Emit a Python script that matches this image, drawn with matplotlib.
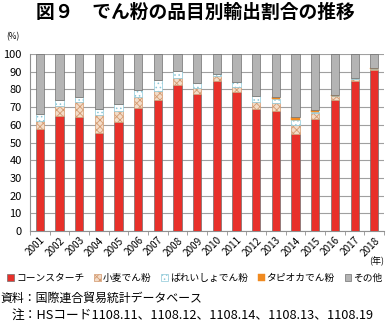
import numpy as np
import matplotlib
matplotlib.use("Agg")
import matplotlib.pyplot as plt

plt.rcParams["font.family"] = ["Noto Sans CJK JP", "DejaVu Sans"]
plt.rcParams["hatch.linewidth"] = 0.6

years = [str(y) for y in range(2001, 2019)]
# segment sizes (%)
corn = [57.4, 64.9, 64.3, 55.5, 61.7, 69.8, 74.0, 82.6, 77.6, 84.9,
        78.3, 68.7, 67.9, 55.1, 63.2, 74.0, 84.9, 91.1]
wheat = [4.7, 5.5, 8.9, 10.0, 6.2, 5.7, 4.9, 3.8, 3.2, 2.5,
         3.2, 4.3, 4.7, 4.9, 3.6, 2.2, 1.3, 0.4]
potato = [3.9, 3.6, 2.3, 3.7, 3.8, 4.1, 6.5, 4.0, 2.6, 1.3,
          2.8, 3.4, 1.9, 2.6, 0.6, 0.2, 0.2, 0.2]
tapioca = [0.0, 0.0, 0.0, 0.0, 0.0, 0.0, 0.0, 0.0, 0.0, 0.0,
           0.0, 0.0, 1.3, 2.1, 1.1, 0.4, 0.2, 0.3]
labels = ["コーンスターチ", "小麦でん粉", "ばれいしょでん粉", "タピオカでん粉", "その他"]

other = [100 - a - b - c - d for a, b, c, d in zip(corn, wheat, potato, tapioca)]

fig = plt.figure(figsize=(3.9, 3.24), dpi=100)
ax = fig.add_axes([0.077, 0.287, 0.908, 0.546])

x = np.arange(len(years))
w = 0.42
edge = "#707070"
b1 = ax.bar(x, corn, w, color="#e8302a", edgecolor=edge, linewidth=0.5, label=labels[0], zorder=3)
bottom = np.array(corn)
b2 = ax.bar(x, wheat, w, bottom=bottom, color="#f3dcc8", edgecolor="#d49a70", hatch="xxxxx",
            linewidth=0.5, label=labels[1], zorder=3)
bottom = bottom + wheat
b3 = ax.bar(x, potato, w, bottom=bottom, color="white", edgecolor="#8cc8d8", hatch="....",
            linewidth=0.5, label=labels[2], zorder=3)
bottom = bottom + potato
b4 = ax.bar(x, tapioca, w, bottom=bottom, color="#f08a20", edgecolor="#f08a20",
            linewidth=0.3, label=labels[3], zorder=3)
bottom = bottom + tapioca
b5 = ax.bar(x, other, w, bottom=bottom, color="#b4b4b4", edgecolor=edge, linewidth=0.5,
            label=labels[4], zorder=3)

ax.set_xlim(-0.5, len(years) - 0.5)
ax.set_ylim(0, 100)
ax.set_yticks(range(0, 101, 10))
ax.tick_params(axis="y", length=0, labelsize=8, pad=6)
ax.set_xticks(x)
ax.set_xticklabels(years, rotation=45, ha="right", rotation_mode="anchor", fontsize=7.2)
ax.tick_params(axis="x", length=0, pad=3)
ax.set_xticks(np.arange(-0.5, len(years), 1), minor=True)
ax.tick_params(axis="x", which="minor", length=3, color="#909090")
ax.grid(axis="y", color="#a0a0a0", linewidth=0.8, zorder=0)
for s in ["top", "right"]:
    ax.spines[s].set_visible(False)
ax.spines["left"].set_color("#909090")
ax.spines["bottom"].set_color("#909090")

fig.text(0.5, 0.962, "図９　でん粉の品目別輸出割合の推移", ha="center", va="center",
         fontsize=13.5, fontweight="bold")
fig.text(0.015, 0.888, "(%)", fontsize=6, va="center")
fig.text(0.985, 0.193, "(年)", fontsize=6.5, ha="right", va="center")

fig.legend(handles=[b1, b2, b3, b4, b5], labels=labels, loc="center", ncol=5,
           bbox_to_anchor=(0.5, 0.142), frameon=False, fontsize=7,
           handlelength=0.7, handleheight=0.7, handletextpad=0.2, columnspacing=1.0)

fig.text(0.0, 0.08, "資料：国際連合貿易統計データベース", fontsize=8.6, va="center")
fig.text(0.03, 0.028, "注：HSコード1108.11、1108.12、1108.14、1108.13、1108.19",
         fontsize=9.2, va="center")

fig.savefig("out.png", dpi=100)
